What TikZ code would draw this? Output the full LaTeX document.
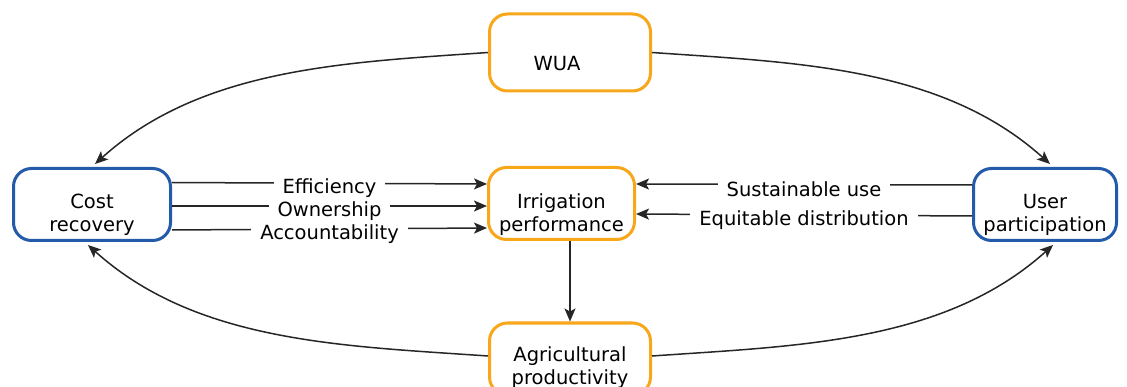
\documentclass[tikz,border=0pt]{standalone}
\usepackage{fontspec}
\setmainfont{DejaVu Sans}
\usetikzlibrary{positioning, arrows.meta}
\definecolor{boxblue}{RGB}{35,90,170}
\definecolor{boxorange}{RGB}{248,166,26}
\tikzset{
  box/.style={draw, line width=3pt, rounded corners=18pt, align=center,
    minimum height=72pt, inner sep=0pt, fill=white, text height=60pt, text depth=5pt},
  bluebox/.style={box, draw=boxblue},
  orangebox/.style={box, draw=boxorange},
  link/.style={line width=1.5pt, draw=black!85,
    -{Stealth[length=13pt, width=11pt, inset=3pt]}},
  tag/.style={fill=white, inner xsep=9pt, inner ysep=1pt, yshift=-5pt}
}

\begin{document}
\begin{tikzpicture}[x=1pt, y=-1pt, font=\fontsize{19.5}{23}\selectfont]
  \useasboundingbox (0,0) rectangle (1127,387);

  \node[orangebox, minimum width=161pt, minimum height=77pt, text height=40pt, text depth=3pt]
    (wua) at (570,52.5) {\hspace*{-26pt}WUA};
  \node[bluebox, minimum width=157pt] (cost) at (92,204.5) {Cost\\recovery};
  \node[orangebox, minimum width=146pt, text height=62pt] (irr) at (561.5,203.5) {Irrigation\\performance};
  \node[bluebox, minimum width=143pt] (user) at (1045,204.5) {User\\participation};
  \node[orangebox, minimum width=161pt, text height=55pt] (agri) at (570,359) {Agricultural\\productivity};

  % outer loop
  \draw[link] (wua.west) to[out=184, in=42, looseness=0.9] ([xshift=3pt, yshift=3pt]cost.north);
  \draw[link] (wua.east) to[out=-4, in=138, looseness=0.9] ([xshift=5pt, yshift=3pt]user.north);
  \draw[link] ([yshift=3pt]agri.west) to[out=176, in=-42, looseness=0.9] ([xshift=-4pt, yshift=-3pt]cost.south);
  \draw[link] ([yshift=3pt]agri.east) to[out=4, in=-138, looseness=0.9] ([xshift=8pt, yshift=-3pt]user.south);

  % into irrigation performance
  \draw[link] ([yshift=22pt]cost.east) -- node[tag] {Efficiency} ([yshift=19.5pt]irr.west);
  \draw[link] ([yshift=-1.5pt]cost.east) -- node[tag] {Ownership} ([yshift=-2.5pt]irr.west);
  \draw[link] ([yshift=-25.5pt]cost.east) -- node[tag] {Accountability} ([yshift=-24.5pt]irr.west);
  \draw[link] ([yshift=19.5pt]user.west) -- node[tag] {Sustainable use} ([yshift=19.5pt]irr.east);
  \draw[link] ([yshift=-11.5pt]user.west) -- node[tag] {Equitable distribution} ([yshift=-10.5pt]irr.east);

  \draw[link] (agri.north |- irr.south) -- (agri.north);
\end{tikzpicture}
\end{document}
